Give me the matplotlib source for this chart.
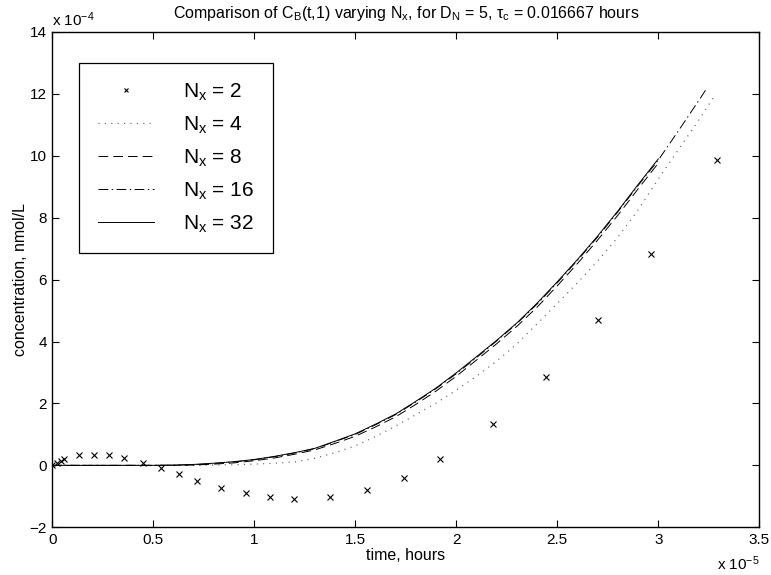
import numpy as np
import matplotlib
matplotlib.use("Agg")
import matplotlib.pyplot as plt

plt.rcParams['font.family'] = ['Liberation Sans', 'DejaVu Sans']
plt.rcParams['mathtext.default'] = 'regular'
plt.rcParams['lines.scale_dashes'] = False

# time in units of 1e-5 hours, concentration in units of 1e-4 nmol/L
t2 = [0, 0.022, 0.042, 0.059, 0.134, 0.208, 0.282, 0.356, 0.448, 0.539, 0.627,
      0.718, 0.835, 0.957, 1.078, 1.198, 1.377, 1.558, 1.740, 1.919, 2.180,
      2.443, 2.703, 2.964, 3.289]
c2 = [0, 0.08, 0.14, 0.19, 0.33, 0.35, 0.33, 0.25, 0.08, -0.10, -0.29,
      -0.50, -0.72, -0.89, -1.02, -1.09, -1.02, -0.80, -0.40, 0.19, 1.33,
      2.85, 4.68, 6.83, 9.88]

t_grid = [0, 0.5, 0.6, 0.7, 0.8, 0.9, 1.0, 1.1, 1.2, 1.3, 1.4, 1.5, 1.6, 1.7,
          1.8, 1.9, 2.0, 2.1, 2.2, 2.3, 2.4, 2.5, 2.6, 2.7, 2.8, 2.9, 3.0]

t4 = t_grid + [3.1, 3.2, 3.276]
c4 = [0, 0, 0, 0, 0.01, 0.02, 0.04, 0.07, 0.11, 0.23, 0.41, 0.63, 0.93, 1.27,
      1.64, 2.01, 2.43, 2.88, 3.37, 3.92, 4.57, 5.23, 5.90, 6.60, 7.37, 8.25,
      9.25, 10.2, 11.15, 11.91]

t8 = t_grid
c8 = [0, 0, 0, 0.01, 0.04, 0.08, 0.15, 0.24, 0.36, 0.50, 0.71, 0.94, 1.24,
      1.57, 1.97, 2.40, 2.88, 3.40, 3.93, 4.49, 5.11, 5.80, 6.52, 7.28, 8.08,
      8.93, 9.76]

t16 = t_grid + [3.1, 3.2, 3.243]
c16 = [0, 0, 0.005, 0.02, 0.06, 0.11, 0.18, 0.28, 0.40, 0.54, 0.77, 1.00, 1.31,
       1.64, 2.05, 2.48, 2.96, 3.48, 4.02, 4.58, 5.21, 5.90, 6.62, 7.38, 8.19,
       9.04, 9.86, 10.81, 11.78, 12.21]

t32 = t_grid
c32 = [0, 0, 0.01, 0.03, 0.07, 0.12, 0.19, 0.29, 0.41, 0.55, 0.78, 1.02, 1.33,
       1.66, 2.07, 2.50, 2.99, 3.51, 4.04, 4.60, 5.24, 5.93, 6.65, 7.41, 8.22,
       9.07, 9.90]

labels = ['$N_x$ = 2', '$N_x$ = 4', '$N_x$ = 8', '$N_x$ = 16', '$N_x$ = 32']

fig = plt.figure(figsize=(7.71, 5.75), dpi=100)
ax = fig.add_axes([0.0678, 0.083, 0.917, 0.8614])

ax.plot(t2, c2, 'x', color='black', markersize=5, markeredgewidth=0.8,
        label=labels[0])
ax.plot(t4, c4, color='0.4', lw=0.9, linestyle=(0, (0.8, 3.8)), label=labels[1])
ax.plot(t8, c8, color='black', lw=0.7, linestyle=(0, (7, 3.6)), label=labels[2])
ax.plot(t16, c16, color='black', lw=0.7, linestyle=(0, (7, 2.5, 1, 2.5)),
        label=labels[3])
ax.plot(t32, c32, color='black', lw=0.7, linestyle='-', label=labels[4])

ax.set_xlim(0, 3.5)
ax.set_ylim(-2, 14)
ax.set_xticks(np.arange(0, 3.51, 0.5))
ax.set_xticklabels(['0', '0.5', '1', '1.5', '2', '2.5', '3', '3.5'])
ax.set_yticks(np.arange(-2, 15, 2))
ax.tick_params(direction='in', length=5, width=0.8, top=True, right=True,
               labelsize=11, pad=4)
for s in ax.spines.values():
    s.set_linewidth(1.0)

ax.set_xlabel('time, hours', fontsize=11.5, labelpad=1)
ax.set_ylabel('concentration, nmol/L', fontsize=11.5, labelpad=1)
ax.set_title(r'Comparison of C$_B$(t,1) varying N$_x$, for D$_N$ = 5, τ$_c$ = 0.016667 hours',
             fontsize=11.5, pad=10)

ax.annotate('x 10$^{-4}$', xy=(0, 1), xycoords='axes fraction',
            xytext=(0, 4), textcoords='offset points', ha='left', va='baseline',
            fontsize=11)
ax.annotate('x 10$^{-5}$', xy=(1, 0), xycoords='axes fraction',
            xytext=(0, -31), textcoords='offset points', ha='right', va='baseline',
            fontsize=11)

leg = ax.legend(loc='upper left', bbox_to_anchor=(0.038, 0.938), fontsize=15,
                frameon=True, fancybox=False, edgecolor='black', framealpha=1,
                handlelength=2.7, handletextpad=1.4, labelspacing=0.56,
                borderpad=0.9, borderaxespad=0, markerscale=0.7)
leg.get_frame().set_linewidth(0.9)

fig.savefig('out.png', dpi=100)
